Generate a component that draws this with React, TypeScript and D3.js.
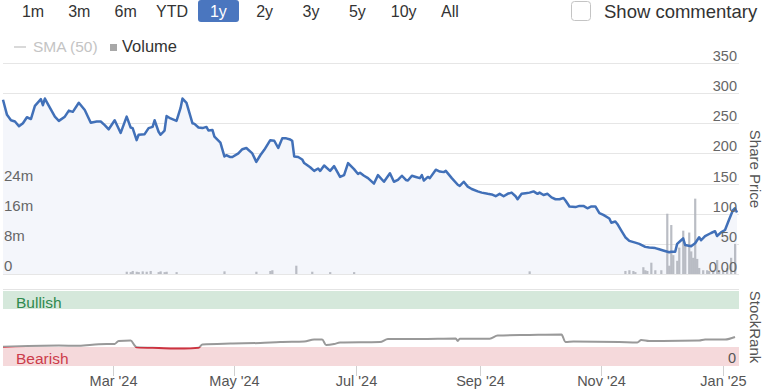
import React from "react";
import * as d3 from "d3";

// ---------- DATA ----------
const rangeButtons = ["1m", "3m", "6m", "YTD", "1y", "2y", "3y", "5y", "10y", "All"];
const activeRange = "1y";

const priceTicks = [0, 50, 100, 150, 200, 250, 300, 350];
const volumeTicks = [0, 8, 16, 24]; // millions
const monthTicks = ["2024-03-01", "2024-05-01", "2024-07-01", "2024-09-01", "2024-11-01", "2025-01-01"];

const priceDates = [
  "2024-01-06","2024-01-08","2024-01-10","2024-01-12","2024-01-14","2024-01-16","2024-01-18","2024-01-20","2024-01-22","2024-01-25","2024-01-26","2024-01-27","2024-01-29",
  "2024-02-01","2024-02-03","2024-02-06","2024-02-08","2024-02-10","2024-02-13","2024-02-16","2024-02-19","2024-02-22","2024-02-24","2024-02-26","2024-02-28",
  "2024-03-02","2024-03-05","2024-03-08","2024-03-10","2024-03-11","2024-03-13","2024-03-14","2024-03-17","2024-03-19","2024-03-21","2024-03-22","2024-03-24","2024-03-25","2024-03-27","2024-03-28","2024-03-30",
  "2024-04-02","2024-04-04","2024-04-05","2024-04-07","2024-04-10","2024-04-11","2024-04-13","2024-04-15","2024-04-17","2024-04-18","2024-04-20","2024-04-21","2024-04-24","2024-04-26","2024-04-27","2024-04-29","2024-04-30",
  "2024-05-03","2024-05-05","2024-05-07","2024-05-10","2024-05-12","2024-05-14","2024-05-16","2024-05-19","2024-05-21","2024-05-23","2024-05-25","2024-05-27","2024-05-29","2024-05-30","2024-05-31",
  "2024-06-02","2024-06-04","2024-06-05","2024-06-08","2024-06-10","2024-06-12","2024-06-13","2024-06-15","2024-06-18","2024-06-20","2024-06-23","2024-06-25","2024-06-27","2024-06-30",
  "2024-07-02","2024-07-03","2024-07-05","2024-07-07","2024-07-10","2024-07-12","2024-07-15","2024-07-18","2024-07-20","2024-07-22","2024-07-24","2024-07-26","2024-07-27","2024-07-29","2024-07-31",
  "2024-08-02","2024-08-03","2024-08-04","2024-08-06","2024-08-07","2024-08-10","2024-08-12","2024-08-14","2024-08-15","2024-08-18","2024-08-21","2024-08-22","2024-08-24","2024-08-26","2024-08-28","2024-08-31",
  "2024-09-02","2024-09-05","2024-09-07","2024-09-09","2024-09-11","2024-09-13","2024-09-15","2024-09-17","2024-09-19","2024-09-20","2024-09-22","2024-09-24","2024-09-26","2024-09-28","2024-09-30",
  "2024-10-01","2024-10-03","2024-10-05","2024-10-07","2024-10-09","2024-10-11","2024-10-13","2024-10-14","2024-10-16","2024-10-19","2024-10-21","2024-10-23","2024-10-25","2024-10-27","2024-10-29","2024-10-31",
  "2024-11-02","2024-11-05","2024-11-06","2024-11-08","2024-11-09","2024-11-11","2024-11-13","2024-11-15","2024-11-18","2024-11-20","2024-11-23","2024-11-25","2024-11-28","2024-11-30",
  "2024-12-02","2024-12-05","2024-12-06","2024-12-08","2024-12-09","2024-12-11","2024-12-12","2024-12-13","2024-12-16","2024-12-18","2024-12-20","2024-12-21","2024-12-23","2024-12-26","2024-12-28","2024-12-29","2024-12-31",
  "2025-01-02","2025-01-04","2025-01-06","2025-01-07","2025-01-08",
];
const priceValues = [
  289,264,255,253,245,250,260,257,279,290,280,291,279,
  261,254,261,271,269,284,272,251,253,253,247,240,
  255,234,261,243,242,222,231,232,242,244,255,236,231,238,262,258,
  254,275,291,284,250,249,243,242,244,238,239,228,218,195,197,194,194,
  200,207,209,200,186,197,206,222,221,209,225,225,223,221,195,
  194,190,184,177,171,175,171,180,171,179,161,164,184,174,
  166,168,163,159,150,164,153,167,153,156,163,156,155,163,161,
  159,164,155,161,159,173,170,169,171,159,148,146,153,145,141,137,
  135,133,132,129,133,129,133,135,129,124,133,134,135,137,133,
  135,131,133,127,124,124,126,122,112,111,113,113,109,112,112,101,
  98,92,85,87,83,72,61,55,52,50,45,44,43,41,
  39,36,37,37,50,56,59,48,46,51,61,56,63,68,71,63,69,
  73,90,106,109,102,
];

const volumeDates = [
  "2024-03-08","2024-03-10","2024-03-11","2024-03-13","2024-03-14","2024-03-16","2024-03-18","2024-03-20","2024-03-24","2024-03-25","2024-03-27","2024-03-28",
  "2024-04-02","2024-04-26","2024-05-12","2024-05-19","2024-05-20","2024-06-01","2024-06-09","2024-06-18","2024-06-30","2024-09-26",
  "2024-11-13","2024-11-15","2024-11-17","2024-11-18","2024-11-22","2024-11-23","2024-11-24","2024-11-26","2024-11-28",
  "2024-12-01","2024-12-04","2024-12-05","2024-12-06","2024-12-07","2024-12-09","2024-12-10","2024-12-12","2024-12-13","2024-12-15","2024-12-16","2024-12-17","2024-12-18","2024-12-19","2024-12-20","2024-12-22","2024-12-24","2024-12-25","2024-12-27","2024-12-29","2024-12-30",
  "2025-01-01","2025-01-03","2025-01-05","2025-01-07",
];
const volumeValues = [
  0.6,0.5,0.8,0.6,0.5,0.7,0.6,0.8,0.5,0.7,0.5,0.6,
  0.5,0.7,0.6,0.8,1.0,2.2,0.6,0.5,0.5,0.7,
  0.8,1.0,0.8,0.5,1.8,1.0,0.8,3.0,1.0,
  1.0,16,2.2,13,5,3.5,7,11.5,8,11,6,4.3,20,4,1.6,1,1,0.8,1,3.7,1,
  0.8,1.6,4.3,8,
];

const rankDates = [
  "2024-01-06","2024-02-03","2024-02-13","2024-02-23","2024-03-02","2024-03-04","2024-03-10","2024-03-12","2024-03-13","2024-03-24","2024-04-06","2024-04-13","2024-04-15",
  "2024-04-29","2024-05-14","2024-05-24","2024-06-05","2024-06-10","2024-06-14","2024-06-16","2024-06-20","2024-06-23","2024-07-13","2024-07-17","2024-08-02",
  "2024-08-20","2024-08-21","2024-08-22","2024-09-06","2024-09-10","2024-09-26","2024-10-12","2024-10-14","2024-10-18","2024-11-10","2024-11-19","2024-11-21",
  "2024-11-25","2024-12-20","2024-12-23","2025-01-02","2025-01-07",
];
const rankValues = [
  25.4,27,26.5,28.6,29,33,33.5,27,24.6,23.7,23,24,28.3,
  29.6,30.3,31.6,32.2,34.9,34.9,27.6,28.9,30.9,31.6,35.5,35.5,
  36.2,33,35.9,36,40,40.8,41.4,31.6,32.2,31.6,31,34.2,
  32.9,33.5,34.9,34.9,38.2,
];

// ---------- CHART ----------
const parse = d3.utcParse("%Y-%m-%d");
const FONT = "'Liberation Sans', Arial, sans-serif";

export default function App() {
  const W = 764, H = 390;
  const plotL = 3, plotR = 739;

  const pDates = priceDates.map((d) => parse(d) as Date);
  const x = d3.scaleUtc().domain(d3.extent(pDates) as [Date, Date]).range([3, 737]);
  const yP = d3.scaleLinear().domain([0, 350]).range([274, 63]);
  const yV = d3.scaleLinear().domain([0, 56]).range([274, 63]);
  const yR = d3.scaleLinear().domain([0, 100]).range([366, 290]);
  const btnX = d3.scalePoint<string>().domain(rangeButtons).range([33, 450]);

  const pts = pDates.map((d, i) => [d, priceValues[i]] as [Date, number]);
  const line = d3.line<[Date, number]>().x((d) => x(d[0])).y((d) => yP(d[1])).curve(d3.curveLinear);
  const area = d3.area<[Date, number]>().x((d) => x(d[0])).y0(yP(0)).y1((d) => yP(d[1]));

  const rPts = rankDates.map((d, i) => [parse(d) as Date, rankValues[i]] as [Date, number]);
  const rLine = d3.line<[Date, number]>().x((d) => x(d[0])).y((d) => yR(d[1])).curve(d3.curveMonotoneX);
  const bearY = yR(25);
  const fmtMonth = d3.utcFormat("%b '%y");

  return (
    <div style={{ position: "absolute", left: 0, top: 0 }}>
      <svg width={W} height={H} style={{ display: "block", fontFamily: FONT }}>
        <defs>
          <clipPath id="aboveBear"><rect x={0} y={0} width={W} height={bearY} /></clipPath>
          <clipPath id="belowBear"><rect x={0} y={bearY} width={W} height={H - bearY} /></clipPath>
        </defs>
        <rect width={W} height={H} fill="#fff" />

        {/* range buttons */}
        <rect x={198} y={0} width={41} height={22} rx={3} fill="#4a76bf" />
        {rangeButtons.map((b) => (
          <text key={b} x={btnX(b)} y={17} textAnchor="middle" fontSize={16}
            fill={b === activeRange ? "#fff" : "#333"}>{b}</text>
        ))}
        <rect x={571.5} y={1.5} width={19} height={19} rx={3} fill="#fff" stroke="#c4c4c4" />
        <text x={604} y={18} fontSize={18.5} fill="#333">Show commentary</text>

        {/* legend */}
        <line x1={14} x2={26} y1={47} y2={47} stroke="#cccccc" strokeWidth={1.5} />
        <text x={33} y={52} fontSize={15.5} fill="#c4c4c4">SMA (50)</text>
        <rect x={110} y={44} width={7} height={7} fill="#a8a8a8" />
        <text x={122} y={52} fontSize={16.5} fill="#333">Volume</text>

        {/* grid */}
        {priceTicks.map((t) => (
          <line key={t} x1={plotL} x2={plotR} y1={Math.round(yP(t)) + 0.5} y2={Math.round(yP(t)) + 0.5} stroke="#e6e6e6" />
        ))}

        {/* area + volume + line */}
        <path d={area(pts) || ""} fill="#f4f6fb" />
        {volumeDates.map((d, i) => {
          const xx = x(parse(d) as Date);
          return (
            <rect key={d} x={xx - 1} y={yV(volumeValues[i])} width={2.2}
              height={yV(0) - yV(volumeValues[i])} fill="#aeb2ba" opacity={0.85} />
          );
        })}
        <path d={line(pts) || ""} fill="none" stroke="#4170b8" strokeWidth={2.5} strokeLinejoin="round" />

        {/* price labels */}
        {priceTicks.map((t) => (
          <text key={t} x={737} y={yP(t) - 2} textAnchor="end" fontSize={14.5} fill="#666">
            {t === 0 ? "0.00" : t}
          </text>
        ))}
        {volumeTicks.map((t) => (
          <text key={t} x={4} y={yV(t) - 3} fontSize={15} fill="#666">
            {t === 0 ? "0" : `${t}m`}
          </text>
        ))}
        <text transform={`translate(750,169) rotate(90)`} textAnchor="middle" fontSize={15} fill="#555">Share Price</text>

        {/* stockrank panel */}
        <line x1={plotL} x2={plotR} y1={289.5} y2={289.5} stroke="#e4e4e4" />
        <rect x={plotL} y={yR(100) + 1} width={plotR - plotL} height={yR(75) - yR(100) - 1} fill="#d5e8db" />
        <rect x={plotL} y={yR(25)} width={plotR - plotL} height={yR(0) - yR(25)} fill="#f5d9db" />
        <text x={16} y={308} fontSize={15.5} fill="#2f8a4e">Bullish</text>
        <text x={16} y={364} fontSize={15.5} fill="#cc3c4a">Bearish</text>
        <text x={736} y={363} textAnchor="end" fontSize={14.5} fill="#555">0</text>
        <path d={rLine(rPts) || ""} fill="none" stroke="#999" strokeWidth={2} clipPath="url(#aboveBear)" />
        <path d={rLine(rPts) || ""} fill="none" stroke="#cc3340" strokeWidth={2} clipPath="url(#belowBear)" />
        <text transform={`translate(750,327) rotate(90)`} textAnchor="middle" fontSize={15} fill="#555">StockRank</text>

        {/* x axis */}
        {monthTicks.map((m) => {
          const xx = Math.round(x(parse(m) as Date)) + 0.5;
          return (
            <g key={m}>
              <line x1={xx} x2={xx} y1={366} y2={376} stroke="#d0d0d0" />
              <text x={xx} y={386} textAnchor="middle" fontSize={14.5} fill="#555">{fmtMonth(parse(m) as Date)}</text>
            </g>
          );
        })}
      </svg>
    </div>
  );
}
